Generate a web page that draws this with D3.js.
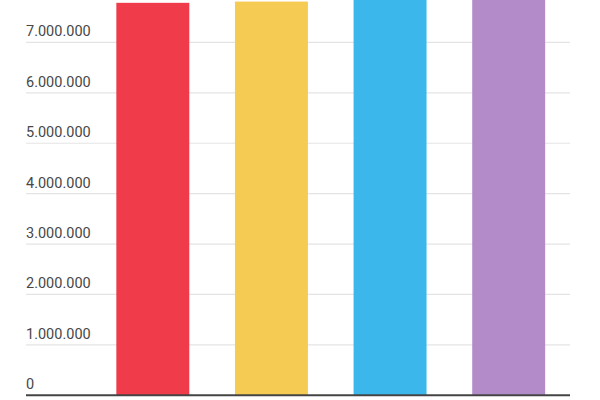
<!DOCTYPE html>
<html>
<head>
<meta charset="utf-8">
<script src="https://cdn.jsdelivr.net/npm/d3@7"></script>
<style>
  body { margin: 0; background: #fff; }
  svg { display: block; }
</style>
</head>
<body>
<div id="chart"></div>
<script>
// data (the two right bars run past the top edge)
var categories = ["A", "B", "C", "D"];
var values = [7785000, 7810000, 8300000, 8150000];
var colors = ["#ef3b4a", "#f5cb54", "#3bb7ec", "#b28bc8"];
var tickValues = [0, 1000000, 2000000, 3000000, 4000000, 5000000, 6000000, 7000000];

var width = 600, height = 400;

var svg = d3.select("#chart")
  .append("svg")
  .attr("width", width)
  .attr("height", height);

var x = d3.scaleBand()
  .domain(categories)
  .range([93.5, 568])
  .paddingInner(0.385)
  .paddingOuter(0.1925);

var y = d3.scaleLinear()
  .domain([0, 7000000])
  .range([395.3, 42.4]);

var fmt = function(v) {
  return d3.format(",")(v).replace(/,/g, ".");
};

// gridlines
svg.selectAll(".grid")
  .data(tickValues.filter(function(d) { return d > 0; }))
  .enter()
  .append("line")
  .attr("class", "grid")
  .attr("x1", 26)
  .attr("x2", 570)
  .attr("y1", function(d) { return y(d); })
  .attr("y2", function(d) { return y(d); })
  .attr("stroke", "#e4e4e4")
  .attr("stroke-width", 1.2);

// tick labels sit above their gridline
svg.selectAll(".tick-label")
  .data(tickValues)
  .enter()
  .append("text")
  .attr("class", "tick-label")
  .attr("x", 26)
  .attr("y", function(d) { return y(d) - 6; })
  .attr("font-family", "Roboto, sans-serif")
  .attr("font-size", 14.5)
  .attr("fill", "#474747")
  .text(fmt);

// bars
svg.selectAll(".bar")
  .data(values)
  .enter()
  .append("rect")
  .attr("class", "bar")
  .attr("x", function(d, i) { return x(categories[i]); })
  .attr("width", x.bandwidth())
  .attr("y", function(d) { return y(d); })
  .attr("height", function(d) { return y(0) - y(d); })
  .attr("fill", function(d, i) { return colors[i]; });

// baseline
svg.append("line")
  .attr("x1", 26)
  .attr("x2", 570)
  .attr("y1", y(0))
  .attr("y2", y(0))
  .attr("stroke", "#444")
  .attr("stroke-width", 2);
</script>
</body>
</html>
